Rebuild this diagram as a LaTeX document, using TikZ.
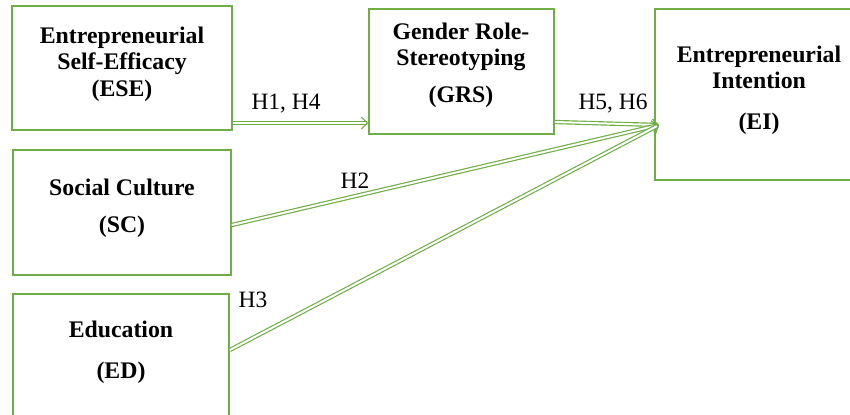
\documentclass[tikz,border=0pt]{standalone}
\usepackage{fontspec}
\setmainfont{Liberation Serif}
\usetikzlibrary{arrows.meta}
\definecolor{PathG}{HTML}{70AD47}

\begin{document}
\begin{tikzpicture}[x=0.03cm, y=-0.03cm,
  font=\fontsize{20}{22.5}\selectfont,
  boxbase/.style={draw=PathG, line width=1.4pt, inner sep=0pt},
  boxsize/.style 2 args={minimum width=#1*0.03cm, minimum height=#2*0.03cm},
  boxtxt/.style={align=center, inner sep=0pt, font=\fontsize{20.3}{22.5}\selectfont\bfseries},
  hyp/.style={anchor=base, inner sep=0pt},
  link/.style={draw=PathG, line width=1pt, double=white, double distance=1.7pt,
              -{Straight Barb[length=5pt, width=10pt]}}]
\useasboundingbox (0,0) rectangle (850,414);
\clip (0,0) rectangle (850,414);
\node[boxbase, boxsize={220}{124}] (ESE) at (122,68) {};
\node[boxbase, boxsize={185}{125}] (GRS) at (461.5,71.5) {};
\node[boxbase, boxsize={208}{171}] (EI) at (759,94.5) {};
\node[boxbase, boxsize={218}{125}] (SC) at (122,212.5) {};
\node[boxbase, boxsize={216}{146}] (ED) at (121,367) {};
\node[boxtxt] (ESEt) at (122,64) {Entrepreneurial\\Self-Efficacy\\(ESE)};
\node[boxtxt] (GRSt) at (461,65) {Gender Role-\\Stereotyping\\[9pt](GRS)};
\node[boxtxt] (EIt) at (759,90) {Entrepreneurial\\Intention\\[12pt](EI)};
\node[boxtxt] (SCt) at (122,208) {Social Culture\\[9pt](SC)};
\node[boxtxt] (EDt) at (121,352) {Education\\[12.5pt](ED)};
\coordinate (EIin) at (659,125);
\draw[link] (ESE.east |- 0,123) -- (GRS.west |- 0,123);
\draw[link] (GRS.east |- 0,122) -- (EIin);
\draw[link] (SC.east |- 0,225) -- (EIin);
\draw[link] (ED.east |- 0,350) -- (EIin);
\node[hyp] (h14) at (286,109) {H1, H4};
\node[hyp] (h56) at (613,109) {H5, H6};
\node[hyp] (h2) at (355,188) {H2};
\node[hyp] (h3) at (253,307) {H3};
\end{tikzpicture}
\end{document}
